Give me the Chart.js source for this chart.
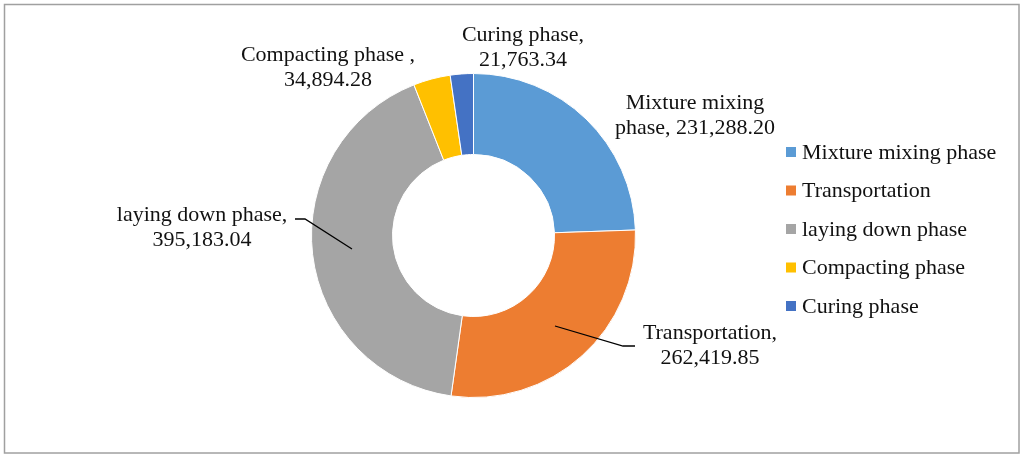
<!DOCTYPE html>
<html>
<head>
<meta charset="utf-8">
<script src="https://cdn.jsdelivr.net/npm/chart.js@4/dist/chart.umd.min.js"></script>
<style>
  html, body { margin: 0; padding: 0; background: #fff; }
  #wrap { position: relative; width: 1024px; height: 458px; }
</style>
</head>
<body>
<div id="wrap"><canvas id="phaseChart" width="1024" height="458"></canvas></div>
<script>
// phases and their values
const phases = ['Mixture mixing phase', 'Transportation', 'laying down phase', 'Compacting phase', 'Curing phase'];
const phaseValues = [231288.20, 262419.85, 395183.04, 34894.28, 21763.34];
const phaseColors = ['#5B9BD5', '#ED7D31', '#A5A5A5', '#FFC000', '#4472C4'];

// data label text: first line, and prefix before the value on the second line
const labelFirst = ['Mixture mixing', 'Transportation,', 'laying down phase,', 'Compacting phase ,', 'Curing phase,'];
const labelPrefix = ['phase, ', '', '', '', ''];

const FONT = '22px "Liberation Serif", "Times New Roman", serif';

function fmt(v) {
  return v.toLocaleString('en-US', { minimumFractionDigits: 2, maximumFractionDigits: 2 });
}

// label placement relative to the ring centre (first line centre)
const labelOffsets = [[221.5, -132.5], [236.5, 97.5], [-271.5, -20.5], [-145.5, -180.5], [49.5, -200.5]];
// leader lines, relative to the ring centre
const leaders = {
  1: [[81.5, 90.5], [149.5, 110.5], [161.5, 110.5]],
  2: [[-178.5, -16.5], [-168.5, -16.5], [-121.5, 13.5]]
};

const frame = {
  id: 'frame',
  beforeDraw(chart) {
    const ctx = chart.ctx;
    ctx.save();
    ctx.fillStyle = '#fff';
    ctx.fillRect(0, 0, chart.width, chart.height);
    ctx.strokeStyle = '#a0a0a0';
    ctx.lineWidth = 1.5;
    ctx.strokeRect(4.5, 4.5, 1014.5, 448.5);
    ctx.restore();
  }
};

const labels = {
  id: 'phaseLabels',
  afterDraw(chart) {
    const ctx = chart.ctx;
    const meta = chart.getDatasetMeta(0);
    const arc0 = meta.data[0];
    const cx = arc0.x, cy = arc0.y;
    const vals = chart.data.datasets[0].data;
    ctx.save();
    ctx.font = FONT;
    ctx.fillStyle = '#111';
    ctx.textAlign = 'center';
    ctx.textBaseline = 'middle';
    vals.forEach((v, i) => {
      const [dx, dy] = labelOffsets[i];
      ctx.fillText(labelFirst[i], cx + dx, cy + dy);
      ctx.fillText(labelPrefix[i] + fmt(v), cx + dx, cy + dy + 25);
    });
    ctx.strokeStyle = '#000';
    ctx.lineWidth = 1.3;
    Object.values(leaders).forEach(pts => {
      ctx.beginPath();
      pts.forEach(([dx, dy], k) => {
        if (k === 0) ctx.moveTo(cx + dx, cy + dy);
        else ctx.lineTo(cx + dx, cy + dy);
      });
      ctx.stroke();
    });

    // legend
    const legX = 786, legY = 152, legStep = 38.5;
    ctx.textAlign = 'left';
    chart.data.labels.forEach((name, i) => {
      const y = legY + i * legStep;
      ctx.fillStyle = chart.data.datasets[0].backgroundColor[i];
      ctx.fillRect(legX, y - 5, 10, 10);
      ctx.fillStyle = '#111';
      ctx.fillText(name, legX + 16, y + 1);
    });
    ctx.restore();
  }
};

new Chart(document.getElementById('phaseChart'), {
  type: 'doughnut',
  data: {
    labels: phases,
    datasets: [{
      data: phaseValues,
      backgroundColor: phaseColors,
      borderColor: '#fff',
      borderWidth: 1,
      hoverBorderWidth: 1
    }]
  },
  options: {
    responsive: false,
    animation: false,
    devicePixelRatio: 1,
    cutout: '50%',
    layout: { padding: { left: 311, right: 388, top: 73, bottom: 60 } },
    plugins: {
      legend: { display: false },
      tooltip: { enabled: false }
    }
  },
  plugins: [frame, labels]
});
</script>
</body>
</html>
